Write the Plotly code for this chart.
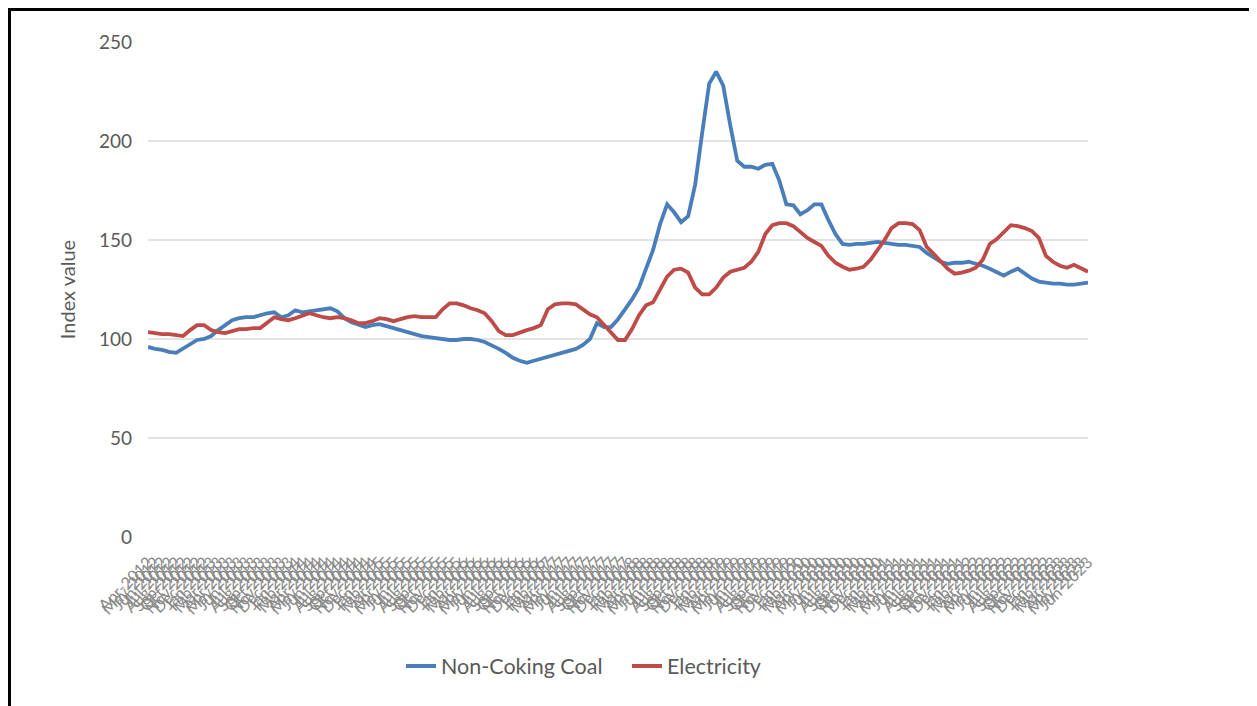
import plotly.graph_objects as go

months = ["Jan", "Feb", "Mar", "Apr", "May", "Jun", "Jul", "Aug", "Sep", "Oct", "Nov", "Dec"]
period_labels = []
for k in range(135):
    m = (3 + k) % 12
    y = 2012 + (3 + k) // 12
    period_labels.append(f"{months[m]}-{y}")

non_coking_coal = [
    96, 95, 94.5, 93.5, 93, 95, 97.5, 99.5, 100, 101.5,
    104.5, 107, 109.5, 110.5, 111, 111, 112, 113, 113.5, 111,
    112, 114.5, 113.5, 114, 114.5, 115, 115.5, 114, 110.5, 108.5,
    107, 106, 107, 107.5, 106.5, 105.5, 104.5, 103.5, 102.5, 101.5,
    101, 100.5, 100, 99.5, 99.5, 100, 100, 99.5, 98.5, 97,
    95, 93, 90.5, 89, 88, 89, 90, 91, 92, 93,
    94, 95, 97, 100, 108, 106, 106, 110, 115, 120,
    126, 135, 145, 158, 168, 164, 159, 162, 178, 204,
    229, 235, 228, 208, 190, 187, 187, 186, 188, 188.5,
    180, 168, 167.5, 163, 165, 168, 168, 160, 153, 148,
    147.5, 148, 148, 148.5, 149, 148.5, 148, 147.5, 147.5, 147,
    146.5, 143.5, 141, 139, 138, 138.5, 138.5, 139, 138, 137,
    135.5, 133.5, 132, 134, 135.5, 133, 130.5, 129, 128.5, 128,
    128, 127.5, 127.5, 128, 128.5,
]

electricity = [
    103.5, 103, 102.5, 102.5, 102, 101.5, 104.5, 107, 107, 104.5,
    103.5, 103, 104, 105, 105, 105.5, 105.5, 108, 111, 110,
    109.5, 110.5, 112, 113, 112, 111, 110.5, 111, 110.5, 109.5,
    108, 108, 109, 110.5, 110, 109, 110, 111, 111.5, 111,
    111, 111, 115, 118, 118, 117, 115.5, 114.5, 113, 109,
    104, 102, 102, 103.5, 104.5, 105.5, 107, 115, 117.5, 118,
    118, 117.5, 115, 112.5, 111, 107, 103, 99.5, 99.5, 105,
    112, 117, 118.5, 125, 131.5, 135, 135.5, 133.5, 126, 122.5,
    122.5, 126, 131, 134, 135, 136, 139, 144, 153, 157.5,
    158.5, 158.5, 157, 154, 151, 149, 147, 142, 138.5, 136.5,
    135, 135.5, 136.5, 140, 145, 150, 156, 158.5, 158.5, 158,
    155, 146.5, 143, 139.5, 135.5, 133, 133.5, 134.5, 136, 140,
    148, 150.5, 154, 157.5, 157, 156, 154.5, 151, 142, 139,
    137, 136, 137.5, 135.5, 134,
]

y_ticks = [0, 50, 100, 150, 200, 250]

idx = list(range(len(period_labels)))

fig = go.Figure()
fig.add_trace(go.Scatter(x=idx, y=non_coking_coal, mode="lines", name="Non-Coking Coal",
                         line=dict(color="#4A7EBB", width=3.8)))
fig.add_trace(go.Scatter(x=idx, y=electricity, mode="lines", name="Electricity",
                         line=dict(color="#BE4B48", width=3.8)))

OFF = 8  # page body margin
W, H = 1257 - OFF, 706 - OFF
L, R, T, B = 148 - OFF, 1088 - OFF, 42 - OFF, 537 - OFF
pw, ph = R - L, B - T


def px(x):
    return (x - L) / pw


def py(y):
    return (B - y) / ph


fig.update_layout(
    width=W, height=H,
    margin=dict(l=L, r=W - R, t=T, b=H - B, pad=0),
    paper_bgcolor="white", plot_bgcolor="white",
    font=dict(family="Lato, Open Sans, sans-serif", color="#595959"),
    showlegend=True,
    legend=dict(orientation="h", x=px(401 - OFF), xanchor="left", y=py(666 - OFF), yanchor="middle",
                font=dict(size=21.5, color="#595959"), itemwidth=30, entrywidth=181,
                bgcolor="rgba(0,0,0,0)"),
    xaxis=dict(range=[0, len(idx) - 1], tickmode="array", tickvals=idx, ticktext=period_labels,
               tickangle=-45, tickfont=dict(size=16, color="#8a8a8a"), showgrid=False,
               showline=False, zeroline=False, ticks="", ticklabelstandoff=12),
    yaxis=dict(range=[0, 250], tickvals=y_ticks, showgrid=True, gridcolor="#e3e3e3", gridwidth=1.8,
               zeroline=False, showline=False, tickfont=dict(size=19, color="#595959"),
               ticklabelstandoff=15,
               title=dict(text="Index value", font=dict(size=20, color="#595959"), standoff=17)),
    shapes=[
        dict(type="line", xref="paper", yref="paper", x0=px(0), x1=px(W + 5), y0=py(1.5), y1=py(1.5),
             line=dict(color="black", width=3)),
        dict(type="line", xref="paper", yref="paper", x0=px(1.5), x1=px(1.5), y0=py(0), y1=py(H + 5),
             line=dict(color="black", width=3)),
    ],
)

fig.write_html("out.html")
